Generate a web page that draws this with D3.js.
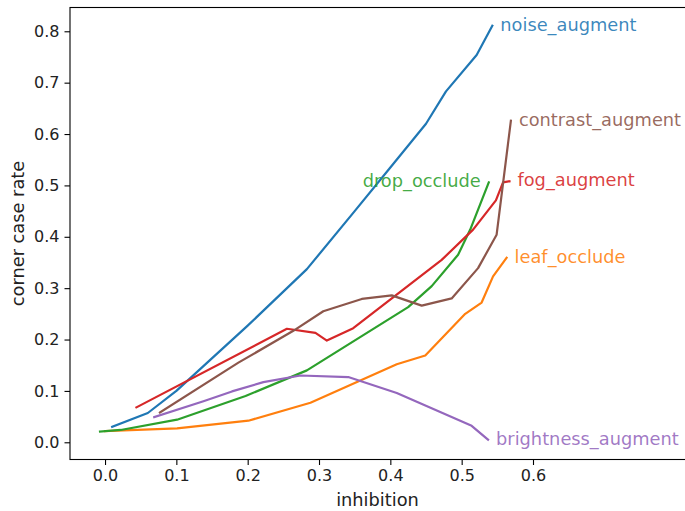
<!DOCTYPE html>
<html>
<head>
<meta charset="utf-8">
<script src="https://cdn.jsdelivr.net/npm/d3@7"></script>
<style>
  body { margin: 0; background: #fff; }
  svg { display: block; font-family: "DejaVu Sans", sans-serif; }
  .line { fill: none; stroke-width: 2.2; stroke-linejoin: round; stroke-linecap: square; }
</style>
</head>
<body>
<script>
// series names and colours (matplotlib tab10 order)
var names = ["noise_augment", "leaf_occlude", "drop_occlude", "fog_augment", "brightness_augment", "contrast_augment"];
var colors = ["#1f77b4", "#ff7f0e", "#2ca02c", "#d62728", "#9467bd", "#8c564b"];

// values
var noiseX = [0.01, 0.06, 0.1, 0.2, 0.283, 0.35, 0.4, 0.45, 0.478, 0.521, 0.543];
var noiseY = [0.03, 0.057, 0.1, 0.227, 0.337, 0.45, 0.535, 0.62, 0.683, 0.754, 0.811];

var leafX = [0.0, 0.101, 0.201, 0.288, 0.409, 0.449, 0.505, 0.528, 0.544, 0.563];
var leafY = [0.022, 0.027, 0.042, 0.077, 0.152, 0.169, 0.25, 0.272, 0.323, 0.359];

var dropX = [-0.007, 0.022, 0.101, 0.197, 0.283, 0.425, 0.458, 0.495, 0.512, 0.538];
var dropY = [0.021, 0.024, 0.044, 0.09, 0.14, 0.263, 0.304, 0.365, 0.414, 0.506];

var fogX = [0.044, 0.255, 0.295, 0.311, 0.348, 0.472, 0.516, 0.548, 0.558, 0.567];
var fogY = [0.068, 0.221, 0.213, 0.198, 0.222, 0.355, 0.414, 0.471, 0.506, 0.508];

var brightX = [0.069, 0.138, 0.178, 0.222, 0.274, 0.341, 0.409, 0.514, 0.537];
var brightY = [0.049, 0.08, 0.099, 0.117, 0.13, 0.127, 0.096, 0.032, 0.005];

var contrastX = [0.077, 0.187, 0.264, 0.306, 0.36, 0.402, 0.444, 0.486, 0.523, 0.549, 0.569];
var contrastY = [0.058, 0.155, 0.217, 0.255, 0.279, 0.286, 0.266, 0.28, 0.339, 0.404, 0.626];

var xTicks = [0.0, 0.1, 0.2, 0.3, 0.4, 0.5, 0.6];
var yTicks = [0.0, 0.1, 0.2, 0.3, 0.4, 0.5, 0.6, 0.7, 0.8];

var seriesX = [noiseX, leafX, dropX, fogX, brightX, contrastX];
var seriesY = [noiseY, leafY, dropY, fogY, brightY, contrastY];

var series = names.map(function(n, i) {
  return {
    name: n,
    color: colors[i],
    values: seriesX[i].map(function(x, j) { return {x: x, y: seriesY[i][j]}; })
  };
});

// set the dimensions and margins of the graph
var W = 685, H = 511;
var margin = {top: 7.5, right: 0, bottom: 51.5, left: 70},
    width = W - margin.left - margin.right,
    height = H - margin.top - margin.bottom;

var svg = d3.select("body")
    .append("svg")
    .attr("width", W)
    .attr("height", H);

var g = svg.append("g")
    .attr("transform", "translate(" + margin.left + "," + margin.top + ")");

var x = d3.scaleLinear()
    .domain([-0.0491, 0.8131])
    .range([0, width]);

var y = d3.scaleLinear()
    .domain([-0.0335, 0.8463])
    .range([height, 0]);

// lines
var valueline = d3.line()
    .x(function(d) { return x(d.x); })
    .y(function(d) { return y(d.y); });

g.selectAll(".line")
    .data(series)
    .enter().append("path")
    .attr("class", "line")
    .attr("stroke", function(d) { return d.color; })
    .attr("d", function(d) { return valueline(d.values); });

// end-of-line labels
g.selectAll(".lbl")
    .data(series)
    .enter().append("text")
    .attr("class", "lbl")
    .attr("x", function(d) {
      var last = d.values[d.values.length - 1];
      return x(last.x) + (d.name === "drop_occlude" ? -8 : 8);
    })
    .attr("y", function(d) { return y(d.values[d.values.length - 1].y); })
    .attr("dy", "0.28em")
    .attr("text-anchor", function(d) { return d.name === "drop_occlude" ? "end" : "start"; })
    .attr("fill", function(d) { return d.color; })
    .attr("fill-opacity", 0.88)
    .style("font-size", "17.8px")
    .text(function(d) { return d.name; });

// axes
var xAxis = g.append("g")
    .attr("transform", "translate(0," + height + ")")
    .call(d3.axisBottom(x).tickValues(xTicks).tickFormat(d3.format(".1f")).tickSizeOuter(0).tickSize(5.5).tickPadding(5));

var yAxis = g.append("g")
    .call(d3.axisLeft(y).tickValues(yTicks).tickFormat(d3.format(".1f")).tickSizeOuter(0).tickSize(5.5).tickPadding(5));

[xAxis, yAxis].forEach(function(a) {
  a.select(".domain").remove();
  a.selectAll(".tick line").attr("stroke", "#000").attr("stroke-width", 1.1);
  a.selectAll(".tick text")
    .attr("fill", "#222")
    .style("font-family", "DejaVu Sans")
    .style("font-size", "16px");
});

// frame
g.append("rect")
    .attr("x", 0)
    .attr("y", 0)
    .attr("width", width + 2)
    .attr("height", height)
    .attr("fill", "none")
    .attr("stroke", "#000")
    .attr("stroke-width", 1.1);

// axis titles
svg.append("text")
    .attr("x", margin.left + width / 2)
    .attr("y", 506)
    .attr("text-anchor", "middle")
    .attr("fill", "#222")
    .style("font-size", "17.8px")
    .text("inhibition");

svg.append("text")
    .attr("transform", "translate(24," + (margin.top + height / 2) + ") rotate(-90)")
    .attr("text-anchor", "middle")
    .attr("fill", "#222")
    .style("font-size", "17.8px")
    .text("corner case rate");
</script>
</body>
</html>
